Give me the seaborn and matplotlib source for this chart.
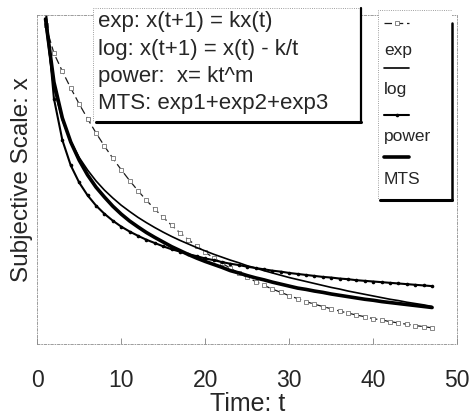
import matplotlib
matplotlib.use("Agg")
import matplotlib.pyplot as plt
import numpy as np
import seaborn as sns
from matplotlib.patches import Rectangle

# ---- data (y in arbitrary 0-100 units) ----
t = list(range(1, 48))

exp_vals = [97.0, 88.4, 82.9, 77.8, 73.0, 68.5, 64.2, 60.2, 56.5, 53.0,
            49.7, 46.6, 43.7, 41.0, 38.5, 36.1, 33.8, 31.7, 29.8, 27.9,
            26.2, 24.6, 23.0, 21.6, 20.3, 19.0, 17.8, 16.7, 15.7, 14.7,
            13.8, 12.9, 12.1, 11.4, 10.7, 10.0, 9.4, 8.8, 8.3, 7.7,
            7.3, 6.8, 6.4, 6.0, 5.6, 5.3, 4.9]

log_vals = [97.3, 77.8, 68.1, 61.6, 56.7, 52.9, 49.6, 46.8, 44.4, 42.2,
            40.3, 38.5, 36.9, 35.4, 34.0, 32.7, 31.5, 30.4, 29.3, 28.3,
            27.3, 26.4, 25.5, 24.7, 23.8, 23.1, 22.3, 21.6, 20.9, 20.2,
            19.6, 19.0, 18.4, 17.8, 17.2, 16.7, 16.1, 15.6, 15.1, 14.6,
            14.1, 13.6, 13.2, 12.7, 12.3, 11.9, 11.4]

power_vals = [102.4, 74.6, 62.0, 54.3, 49.1, 45.2, 42.1, 39.6, 37.5, 35.7,
              34.2, 32.9, 31.7, 30.7, 29.7, 28.8, 28.1, 27.3, 26.7, 26.0,
              25.5, 24.9, 24.4, 24.0, 23.5, 23.1, 22.7, 22.3, 22.0, 21.6,
              21.3, 21.0, 20.7, 20.4, 20.2, 19.9, 19.7, 19.4, 19.2, 19.0,
              18.8, 18.6, 18.4, 18.2, 18.0, 17.8, 17.6]

mts_vals = [98.8, 79.6, 68.7, 61.4, 55.9, 51.4, 47.7, 44.7, 41.9, 39.5,
            37.4, 35.6, 33.9, 32.4, 31.0, 29.6, 28.4, 27.2, 26.1, 25.1,
            24.2, 23.3, 22.3, 21.6, 20.8, 20.1, 19.5, 18.8, 18.2, 17.6,
            17.0, 16.6, 16.1, 15.7, 15.2, 14.8, 14.4, 14.0, 13.6, 13.3,
            12.9, 12.6, 12.3, 12.0, 11.7, 11.4, 11.1]

x_ticks = [0, 10, 20, 30, 40, 50]

formulas = ["exp: x(t+1) = kx(t)",
            "log: x(t+1) = x(t) - k/t",
            "power:  x= kt^m",
            "MTS: exp1+exp2+exp3"]
legend_labels = ["exp", "log", "power", "MTS"]

# ---- styles ----
STYLES = {
    "exp": dict(color="0.1", lw=0.9, linestyle=(0, (6, 3)), marker="s",
                markersize=3, markerfacecolor="white", markeredgecolor="0.45",
                markeredgewidth=0.6),
    "log": dict(color="black", lw=1.2, linestyle="-"),
    "power": dict(color="black", lw=1.5, linestyle="-", marker="o",
                  markersize=2.6, markeredgewidth=0),
    "MTS": dict(color="black", lw=2.6, linestyle="-"),
}

sns.set_theme(style="white")
plt.rcParams["font.family"] = ["Liberation Sans", "DejaVu Sans"]

fig = plt.figure(figsize=(4.7, 4.18), dpi=100)
ax = fig.add_axes([0.079, 0.177, 0.894, 0.787])

series = {"exp": exp_vals, "log": log_vals, "power": power_vals, "MTS": mts_vals}
for name, vals in series.items():
    sns.lineplot(x=t, y=vals, ax=ax, legend=False, **STYLES[name])

ax.set_xlim(0, 50)
ax.set_ylim(0, 100)
ax.set_xticks(x_ticks)
ax.set_xticklabels([str(v) for v in x_ticks], fontsize=16.5)
ax.set_yticks([])
ax.tick_params(axis="x", direction="in", length=4, width=0.6, color="0.5",
               pad=18, bottom=True)
for sp in ax.spines.values():
    sp.set_linestyle((0, (3, 2, 1, 2)))
    sp.set_linewidth(0.6)
    sp.set_color("0.55")
ax.set_xlabel("Time: t", fontsize=18, labelpad=0)
ax.set_ylabel("Subjective Scale: x", fontsize=17.5, labelpad=3)

# ---- formula box ----
fb = fig.add_axes([0.198, 0.708, 0.570, 0.273])
fb.set_xlim(0, 1)
fb.set_ylim(0, 1)
fb.axis("off")
fb.add_patch(Rectangle((0, 0), 1, 1, facecolor="white", edgecolor="0.5",
                       lw=0.6, linestyle=":", transform=fb.transAxes))
fb.plot([0.01, 1.0], [0.0, 0.0], color="black", lw=2.2, clip_on=False)
fb.plot([1.0, 1.0], [0.0, 1.0], color="black", lw=1.6, clip_on=False)
for i, s in enumerate(formulas):
    fb.text(0.018, 0.877 - i * 0.237, s, fontsize=16, va="center", ha="left")

# ---- legend box (handle above label) ----
lb = fig.add_axes([0.804, 0.522, 0.158, 0.454])
lb.set_xlim(0, 1)
lb.set_ylim(0, 1)
lb.axis("off")
lb.add_patch(Rectangle((0, 0), 1, 1, facecolor="white", edgecolor="0.5",
                       lw=0.6, linestyle=":", transform=lb.transAxes))
lb.plot([0.03, 1.0], [0.0, 0.0], color="black", lw=2.2, clip_on=False)
lb.plot([1.0, 1.0], [0.0, 0.93], color="black", lw=1.8, clip_on=False)
handle_y = [0.932, 0.695, 0.447, 0.226]
label_y = [0.789, 0.579, 0.332, 0.105]
for name, hy, ly in zip(legend_labels, handle_y, label_y):
    st = dict(STYLES[name])
    lb.plot([0.08, 0.26, 0.42], [hy, hy, hy], markevery=[1], **st)
    lb.text(0.08, ly, name, fontsize=12.5, va="center", ha="left")

fig.savefig("out.png", dpi=100)
